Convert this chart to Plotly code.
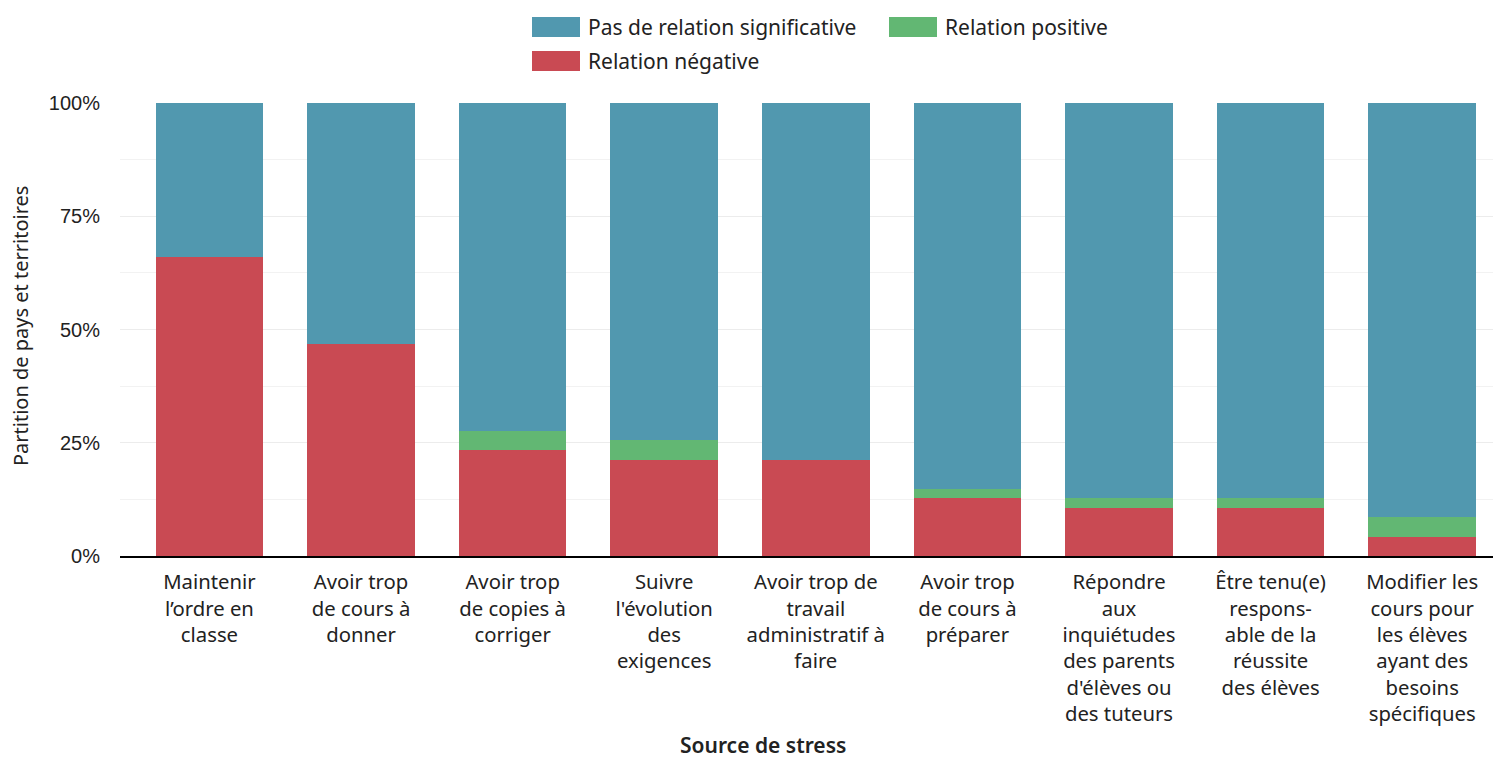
import plotly.graph_objects as go

categories = [
    "Maintenir<br>l’ordre en<br>classe",
    "Avoir trop<br>de cours à<br>donner",
    "Avoir trop<br>de copies à<br>corriger",
    "Suivre<br>l'évolution<br>des<br>exigences",
    "Avoir trop de<br>travail<br>administratif à<br>faire",
    "Avoir trop<br>de cours à<br>préparer",
    "Répondre<br>aux<br>inquiétudes<br>des parents<br>d'élèves ou<br>des tuteurs",
    "Être tenu(e)<br>respons-<br>able de la<br>réussite<br>des élèves",
    "Modifier les<br>cours pour<br>les élèves<br>ayant des<br>besoins<br>spécifiques",
]
negative = [66.0, 46.8, 23.4, 21.3, 21.3, 12.8, 10.6, 10.6, 4.3]
positive = [0.0, 0.0, 4.3, 4.3, 0.0, 2.1, 2.1, 2.1, 4.3]
no_relation = [34.0, 53.2, 72.3, 74.5, 78.7, 85.1, 87.2, 87.2, 91.5]

names = ["Pas de relation significative", "Relation positive", "Relation négative"]
colors = {"blue": "#5198AF", "green": "#62B773", "red": "#C94A53"}

xs = list(range(len(categories)))
fig = go.Figure()
fig.add_trace(go.Bar(x=xs, y=negative, name=names[2], marker_color=colors["red"], marker_line_width=0))
fig.add_trace(go.Bar(x=xs, y=positive, name=names[1], marker_color=colors["green"], marker_line_width=0))
fig.add_trace(go.Bar(x=xs, y=no_relation, name=names[0], marker_color=colors["blue"], marker_line_width=0))

OFF = 8  # page body margin
W, H = 1501 - OFF, 758 - OFF
L, R, T, B = 120 - OFF, 0, 103 - OFF, 202
pw, ph = W - L - R, H - T - B

def px(x):
    return (x - OFF - L) / pw

def py(y):
    return 1 - (y - OFF - T) / ph

shapes = []
annotations = []
legend_items = [
    (532, 27, colors["blue"], names[0]),
    (889, 27, colors["green"], names[1]),
    (532, 61, colors["red"], names[2]),
]
for x0, yc, col, label in legend_items:
    shapes.append(dict(type="rect", xref="paper", yref="paper",
                       x0=px(x0), x1=px(x0 + 48), y0=py(yc - 10), y1=py(yc + 10),
                       fillcolor=col, line_width=0))
    annotations.append(dict(xref="paper", yref="paper", x=px(x0 + 54), y=py(yc),
                            text=label, showarrow=False, xanchor="left", yanchor="middle",
                            font=dict(family="Noto Sans", size=21, color="#222")))

annotations.append(dict(xref="paper", yref="paper", x=px(763), y=py(745),
                        text="Source de stress", showarrow=False, xanchor="center", yanchor="middle",
                        font=dict(family="Noto Sans", size=21, color="#222", weight=600)))

annotations.append(dict(xref="paper", yref="paper", x=px(20), y=py(326),
                        text="Partition de pays et territoires", showarrow=False, textangle=-90,
                        xanchor="center", yanchor="middle",
                        font=dict(family="Noto Sans", size=20, color="#222")))

fig.update_layout(
    width=W, height=H,
    margin=dict(l=L, r=R, t=T, b=B),
    barmode="stack",
    bargap=0.29,
    showlegend=False,
    plot_bgcolor="white", paper_bgcolor="white",
    shapes=shapes,
    annotations=annotations,
    xaxis=dict(
        tickmode="array", tickvals=xs, ticktext=categories,
        range=[-0.59, 8.52],
        showline=True, linecolor="#000", linewidth=1.5,
        ticks="", showgrid=False,
        ticklabelstandoff=7,
        tickfont=dict(family="Noto Sans", size=20.3, color="#222"),
        automargin=False,
    ),
    yaxis=dict(
        range=[0, 100],
        tickvals=[0, 25, 50, 75, 100],
        ticktext=["0%", "25%", "50%", "75%", "100%"],
        showgrid=True, gridcolor="#ececec", gridwidth=1,
        minor=dict(dtick=12.5, showgrid=True, gridcolor="#f2f2f2", tick0=0),
        zeroline=False,
        ticks="", ticklabelstandoff=19,
        tickfont=dict(family="Liberation Sans", size=20, color="#222"),
        automargin=False,
    ),
)

fig.write_html("out.html")
